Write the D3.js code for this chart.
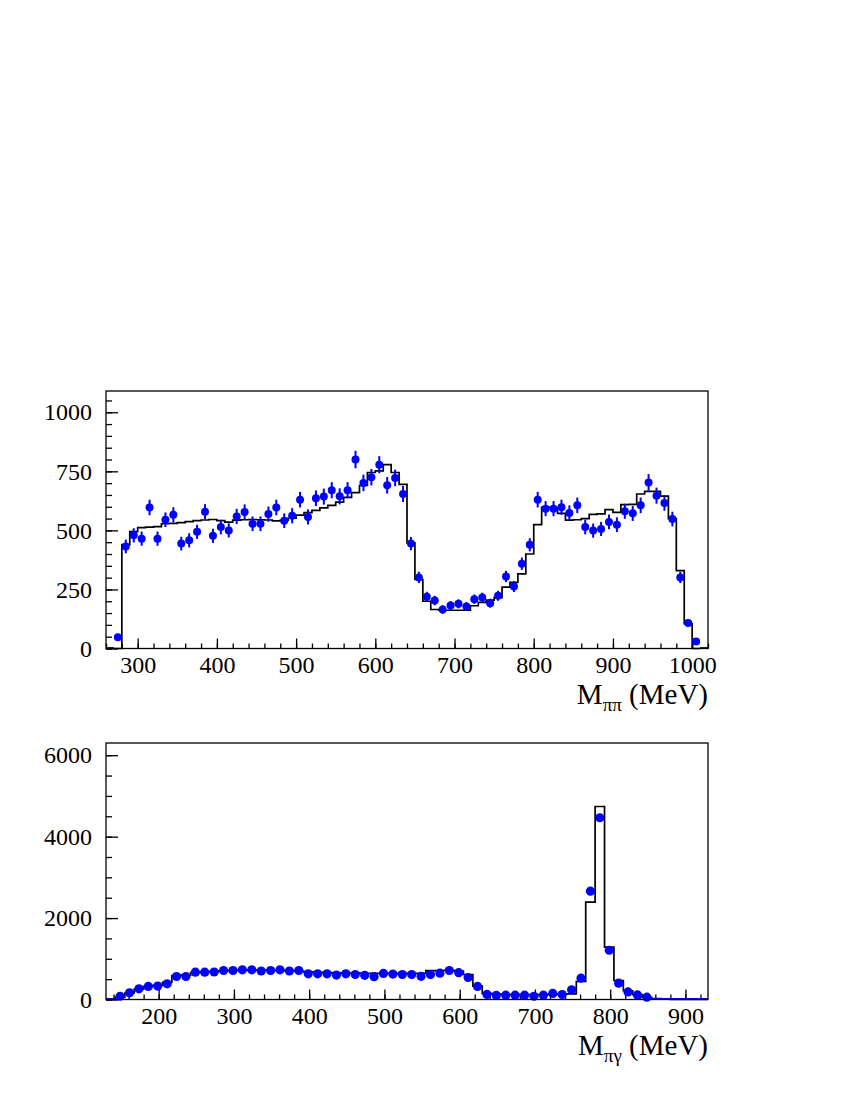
<!DOCTYPE html>
<html>
<head>
<meta charset="utf-8">
<script src="https://cdn.jsdelivr.net/npm/d3@7"></script>
<style>
body { margin: 0; background: #fff; }
text { font-family: "Liberation Serif", "Times New Roman", serif; fill: #000; }
</style>
</head>
<body>
<script>
const width = 850,
      height = 1100;

// M(pi pi): 10 MeV bins starting at 270 MeV
var pipiStart = 270, pipiBin = 10;
var pipiData = [48, 432, 479, 465, 597, 465, 545, 566, 444, 458,
	494, 579, 477, 514, 500, 559, 578, 528, 528, 569,
	597, 541, 562, 630, 557, 636, 643, 670, 644, 670,
	800, 701, 725, 778, 691, 722, 654, 444, 301, 219,
	203, 165, 182, 189, 178, 209, 216, 192, 223, 305,
	262, 359, 439, 630, 592, 592, 598, 574, 606, 514,
	499, 506, 536, 524, 581, 572, 606, 703, 647, 616,
	548, 301, 108, 30];
var pipiErr = [12, 29, 30, 30, 33, 30, 31, 32, 29, 30,
	30, 32, 30, 31, 30, 32, 32, 31, 31, 32,
	33, 31, 32, 33, 32, 33, 34, 34, 34, 34,
	37, 35, 35, 36, 35, 35, 34, 28, 24, 21,
	20, 18, 19, 19, 18, 20, 20, 19, 21, 24,
	23, 26, 28, 33, 32, 32, 32, 32, 33, 31,
	30, 30, 31, 31, 32, 32, 33, 35, 34, 33,
	31, 24, 15, 10];
var pipiMC = [0, 440, 495, 512, 514, 516, 528, 530, 533, 537,
	541, 544, 546, 541, 535, 543, 545, 546, 545, 544,
	540, 542, 552, 565, 575, 585, 595, 606, 620, 640,
	660, 690, 745, 752, 778, 745, 695, 447, 292, 200,
	165, 162, 162, 162, 162, 181, 195, 205, 215, 260,
	280, 316, 400, 524, 599, 595, 572, 543, 545, 550,
	568, 570, 588, 576, 609, 610, 654, 665, 665, 645,
	550, 330, 105, 0];

// M(pi gamma): 12.5 MeV bins starting at 130 MeV
var pigStart = 130, pigBin = 12.5;
var pigData = [0, 80, 165, 262, 320, 330, 385, 565, 565, 671,
	671, 675, 712, 712, 729, 729, 700, 712, 729, 700,
	712, 630, 630, 630, 600, 630, 614, 595, 560, 640,
	625, 614, 614, 570, 614, 647, 712, 660, 540, 320,
	125, 100, 106, 106, 106, 80, 106, 150, 123, 238,
	524, 2661, 4464, 1210, 400, 185, 112, 57, 0, 0,
	0, 0, 0, 0];
var pigMC = [0, 60, 160, 255, 320, 345, 420, 590, 600, 660,
	680, 690, 705, 712, 720, 722, 720, 718, 715, 710,
	700, 680, 668, 660, 655, 650, 648, 645, 642, 640,
	640, 638, 640, 645, 710, 712, 715, 700, 614, 330,
	150, 130, 120, 118, 118, 118, 120, 125, 130, 140,
	442, 2390, 4740, 1286, 467, 215, 120, 55, 20, 15,
	0, 0, 0, 0];

var pipiXTicks = [300, 400, 500, 600, 700, 800, 900, 1000];
var pipiYTicks = [0, 250, 500, 750, 1000];
var pigXTicks = [200, 300, 400, 500, 600, 700, 800, 900];
var pigYTicks = [0, 2000, 4000, 6000];

var svg = d3.select("body").append("svg")
	.attr("width", width)
	.attr("height", height);

var blue = "#0000ff";
var fmt = d3.format("d");

function panel(o) {
	var x = d3.scaleLinear().domain(o.xDomain).range([106, 708]);
	var y = d3.scaleLinear().domain(o.yDomain).range([o.bottom, o.top]);
	var g = svg.append("g");

	// minor ticks, then major ticks with labels
	g.append("g")
		.attr("transform", "translate(0," + o.bottom + ")")
		.call(d3.axisBottom(x).tickValues(o.xMinor).tickSize(-5).tickFormat(""));
	g.append("g")
		.attr("transform", "translate(106,0)")
		.call(d3.axisLeft(y).tickValues(o.yMinor).tickSize(-6).tickFormat(""));
	g.append("g")
		.attr("transform", "translate(0," + o.bottom + ")")
		.call(d3.axisBottom(x).tickValues(o.xTicks).tickSize(-10).tickPadding(7).tickFormat(fmt));
	g.append("g")
		.attr("transform", "translate(106,0)")
		.call(d3.axisLeft(y).tickValues(o.yTicks).tickSize(-12).tickPadding(14).tickFormat(fmt));
	g.selectAll(".domain").remove();
	g.selectAll(".tick line").attr("stroke", "#000").attr("stroke-width", 1.3);
	g.selectAll(".tick text")
		.style("font-family", '"Liberation Serif", "Times New Roman", serif')
		.style("font-size", "24px")
		.attr("fill", "#000");

	// histogram (MC), step outline
	var n = o.mc.length;
	var pts = [[o.start, 0]];
	o.mc.forEach(function (v, i) {
		pts.push([o.start + i * o.bin, v]);
		pts.push([o.start + (i + 1) * o.bin, v]);
	});
	pts.push([o.start + n * o.bin, 0]);
	var line = d3.line()
		.x(function (d) { return x(d[0]); })
		.y(function (d) { return y(d[1]); });
	g.append("path")
		.attr("d", line(pts))
		.attr("fill", "none")
		.attr("stroke", "#000")
		.attr("stroke-width", 1.7);

	// blue baseline where data is empty
	var zeros = [[o.xDomain[0], o.start]];
	o.data.forEach(function (v, i) {
		if (v === 0) zeros.push([o.start + i * o.bin, o.start + (i + 1) * o.bin]);
	});
	zeros.push([o.start + n * o.bin, o.xDomain[1]]);
	g.selectAll(".zero")
		.data(zeros)
		.enter().append("line")
		.attr("x1", function (d) { return x(d[0]); })
		.attr("x2", function (d) { return x(d[1]); })
		.attr("y1", y(0) - 0.5)
		.attr("y2", y(0) - 0.5)
		.attr("stroke", blue)
		.attr("stroke-width", 2);

	var pts2 = o.data.map(function (v, i) {
		return { c: o.start + (i + 0.5) * o.bin, v: v, e: o.err ? o.err[i] : 0 };
	}).filter(function (d) { return d.v > 0; });

	if (o.err) {
		g.selectAll(".err")
			.data(pts2)
			.enter().append("line")
			.attr("x1", function (d) { return x(d.c); })
			.attr("x2", function (d) { return x(d.c); })
			.attr("y1", function (d) { return y(d.v - d.e); })
			.attr("y2", function (d) { return y(d.v + d.e); })
			.attr("stroke", blue)
			.attr("stroke-width", 2);
	}
	g.selectAll(".pt")
		.data(pts2)
		.enter().append("circle")
		.attr("cx", function (d) { return x(d.c); })
		.attr("cy", function (d) { return y(d.v); })
		.attr("r", o.r)
		.attr("fill", blue);

	// frame
	g.append("rect")
		.attr("x", 106)
		.attr("y", o.top)
		.attr("width", 602)
		.attr("height", o.bottom - o.top)
		.attr("fill", "none")
		.attr("stroke", "#000")
		.attr("stroke-width", 1.3);

	// axis title
	var t = g.append("text")
		.attr("x", 708)
		.attr("y", o.bottom + 55)
		.attr("text-anchor", "end")
		.style("font-size", "29px");
	t.append("tspan").text("M");
	t.append("tspan").attr("dy", 7).style("font-size", "19px").text(o.sub);
	t.append("tspan").attr("dy", -7).text(" (MeV)");
}

panel({
	xDomain: [260, 1020], yDomain: [0, 1090], top: 391, bottom: 648.5,
	xTicks: pipiXTicks, yTicks: pipiYTicks,
	xMinor: d3.range(260, 1021, 20), yMinor: d3.range(0, 1051, 50),
	start: pipiStart, bin: pipiBin, data: pipiData, err: pipiErr, mc: pipiMC,
	r: 4, sub: "ππ"
});

panel({
	xDomain: [130, 930], yDomain: [0, 6300], top: 743, bottom: 999.5,
	xTicks: pigXTicks, yTicks: pigYTicks,
	xMinor: d3.range(140, 930, 20), yMinor: d3.range(0, 6001, 500),
	start: pigStart, bin: pigBin, data: pigData, err: null, mc: pigMC,
	r: 4.6, sub: "πγ"
});
</script>
</body>
</html>
